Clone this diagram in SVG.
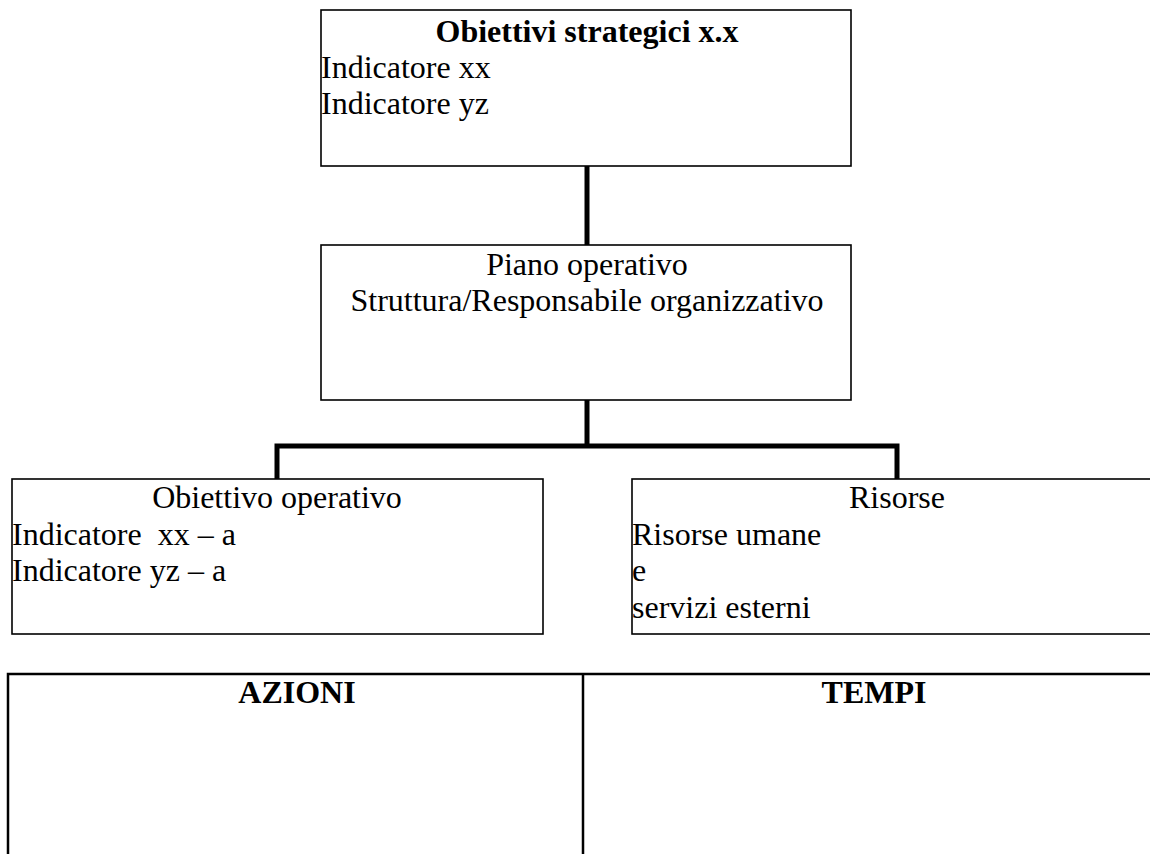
<svg xmlns="http://www.w3.org/2000/svg" width="1150" height="854" viewBox="0 0 1150 854">
<style>
.box{fill:#fff;stroke:#000;stroke-width:1.6}
.conn{fill:none;stroke:#000;stroke-width:5;stroke-linejoin:miter}
.t{font-family:"Liberation Serif","Times New Roman",serif;font-size:32px;fill:#000}
.b{font-weight:bold}
.c{text-anchor:middle}
.tbl{fill:none;stroke:#000;stroke-width:2.5}
</style>
<rect width="1150" height="854" fill="#fff"/>
<g id="connectors">
<line class="conn" x1="587" y1="166" x2="587" y2="245"/>
<path class="conn" d="M587 400 V446 M277 479 V446 H897 V479"/>
</g>
<g id="strategici">
<rect class="box" x="321" y="10" width="530" height="156"/>
<text class="t b c" x="587" y="42">Obiettivi strategici x.x</text>
<text class="t" x="321" y="78">Indicatore xx</text>
<text class="t" x="321" y="114">Indicatore yz</text>
</g>
<g id="piano">
<rect class="box" x="321" y="245" width="530" height="155"/>
<text class="t c" x="587" y="275">Piano operativo</text>
<text class="t c" x="587" y="311">Struttura/Responsabile organizzativo</text>
</g>
<g id="obiettivo">
<rect class="box" x="12" y="479" width="531" height="155"/>
<text class="t c" x="277" y="508">Obiettivo operativo</text>
<text class="t" x="12" y="545" xml:space="preserve">Indicatore  xx – a</text>
<text class="t" x="12" y="581">Indicatore yz – a</text>
</g>
<g id="risorse">
<rect class="box" x="632" y="479" width="530" height="155"/>
<text class="t c" x="897" y="508">Risorse</text>
<text class="t" x="632" y="545">Risorse umane</text>
<text class="t" x="632" y="581">e</text>
<text class="t" x="632" y="618">servizi esterni</text>
</g>
<g id="tabella">
<path class="tbl" d="M8 870 V674 H1160 M583 674 V870"/>
<text class="t b c" x="297" y="703">AZIONI</text>
<text class="t b c" x="874" y="703">TEMPI</text>
</g>
</svg>
